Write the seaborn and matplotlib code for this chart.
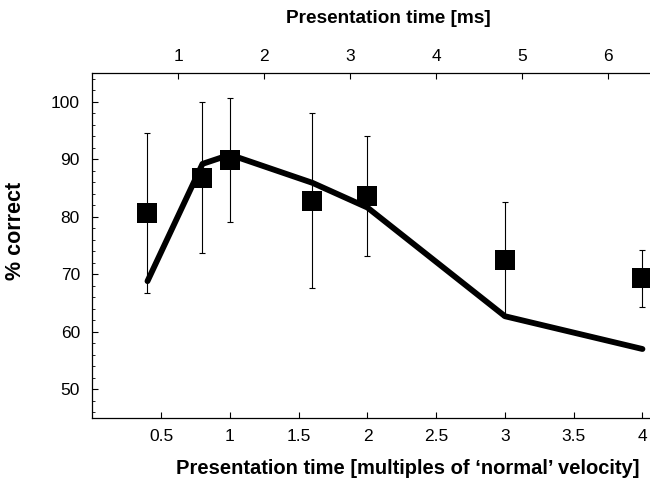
import matplotlib
matplotlib.use("Agg")
import matplotlib.pyplot as plt
from matplotlib.ticker import MultipleLocator
import seaborn as sns
import pandas as pd

# data
velocity = [0.4, 0.8, 1.0, 1.6, 2.0, 3.0, 4.0]
percent_correct = [80.6, 86.8, 89.9, 82.8, 83.6, 72.5, 69.3]
error = [13.9, 13.1, 10.8, 15.2, 10.4, 10.0, 5.0]
model = [68.8, 89.2, 90.8, 85.9, 81.6, 62.7, 57.0]
bottom_ticks = [0.5, 1, 1.5, 2, 2.5, 3, 3.5, 4]
bottom_labels = ["0.5", "1", "1.5", "2", "2.5", "3", "3.5", "4"]
top_ticks = [1, 2, 3, 4, 5, 6]
y_ticks = [50, 60, 70, 80, 90, 100]
ms_per_unit = 1.6

sns.set_style("white")
plt.rcParams['font.family'] = ['Liberation Sans', 'DejaVu Sans']
plt.rcParams['text.color'] = 'black'
plt.rcParams['axes.labelcolor'] = 'black'
plt.rcParams['xtick.color'] = 'black'
plt.rcParams['ytick.color'] = 'black'

df = pd.DataFrame({"v": velocity, "pc": percent_correct, "err": error, "model": model})

fig = plt.figure(figsize=(6.5, 4.87), dpi=100)
ax = fig.add_axes([0.1423, 0.1417, 0.8577, 0.7083])

ax.errorbar(df["v"], df["pc"], yerr=df["err"], fmt="none", ecolor="black",
            elinewidth=0.8, capsize=2.5, capthick=0.8, zorder=2)
sns.scatterplot(data=df, x="v", y="pc", marker="s", s=190, color="black",
                edgecolor="black", linewidth=0, ax=ax, zorder=3)
sns.lineplot(data=df, x="v", y="model", color="black", linewidth=4.2, ax=ax,
             zorder=4, solid_capstyle="round", solid_joinstyle="round")

ax.set_xlim(0, 4.055)
ax.set_ylim(45, 105)
ax.set_xticks(bottom_ticks)
ax.set_xticklabels(bottom_labels)
ax.set_yticks(y_ticks)
ax.yaxis.set_minor_locator(MultipleLocator(2))
ax.tick_params(axis="both", which="major", direction="in", length=4, width=0.8,
               labelsize=12.5, colors="black")
ax.tick_params(axis="y", which="major", pad=9, left=True)
ax.tick_params(axis="x", which="major", pad=8, bottom=True)
ax.tick_params(axis="y", which="minor", direction="in", length=2.5, width=0.6, left=True)

for s in ["left", "bottom", "top"]:
    ax.spines[s].set_visible(True)
    ax.spines[s].set_color("black")
    ax.spines[s].set_linewidth(0.9)
ax.spines["right"].set_visible(False)

ax.set_xlabel("Presentation time [multiples of \u2018normal\u2019 velocity]",
              fontsize=14.5, fontweight="bold", va="center", ha="center")
ax.xaxis.set_label_coords(0.566, -0.145)
ax.set_ylabel("% correct", fontsize=15.5, fontweight="bold", va="center", ha="center")
ax.yaxis.set_label_coords(-0.139, 0.542)

sec = ax.secondary_xaxis("top", functions=(lambda x: x * ms_per_unit, lambda x: x / ms_per_unit))
sec.set_xticks(top_ticks)
sec.tick_params(axis="x", direction="in", length=4, width=0.8, labelsize=12.5, pad=6.5)
sec.spines["top"].set_visible(False)
ax.text(0.530, 1.159, "Presentation time [ms]", transform=ax.transAxes,
        fontsize=13.7, fontweight="bold", va="center", ha="center")

fig.savefig("out.png", dpi=100)
